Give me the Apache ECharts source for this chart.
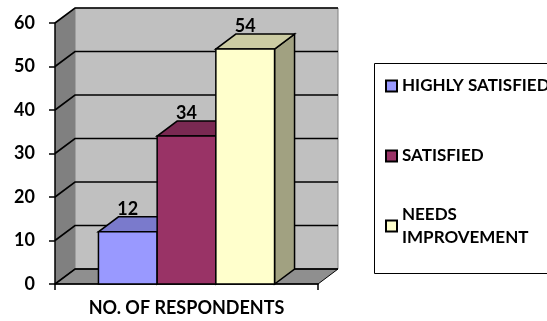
<!DOCTYPE html>
<html><head><meta charset="utf-8">
<script src="https://cdn.jsdelivr.net/npm/echarts@6/dist/echarts.min.js"></script>
<style>html,body{margin:0;padding:0;background:#fff}#c{width:547px;height:321px}</style>
</head><body><div id="c"></div>
<script>
// ---- data ----
const categories = ['NO. OF RESPONDENTS'];
const seriesNames = ['HIGHLY SATISFIED', 'SATISFIED', 'NEEDS IMPROVEMENT'];
const highlySatisfied = [12];
const satisfied = [34];
const needsImprovement = [54];
const yTicks = [0, 10, 20, 30, 40, 50, 60];

// ---- style ----
const colors = ['#9999FF', '#993366', '#FFFFCC'];
const DX = 20, DY = 15;          // 3D depth offset (px)
const BAR_FRAC = 0.2232;         // bar width as fraction of category band
const FONT = 'Lato';

function shade(hex, f) {
  const n = parseInt(hex.slice(1), 16);
  const r = Math.round(((n >> 16) & 255) * f), g = Math.round(((n >> 8) & 255) * f), b = Math.round((n & 255) * f);
  return 'rgb(' + r + ',' + g + ',' + b + ')';
}

function wallsRender(params, api) {
  const cs = params.coordSys;
  const x0 = cs.x, y0 = cs.y, x1 = cs.x + cs.width, y1 = cs.y + cs.height;
  const children = [
    { type: 'rect', shape: { x: x0 + DX, y: y0 - DY, width: cs.width, height: cs.height },
      style: { fill: '#C0C0C0', stroke: '#808080', lineWidth: 1 } },
    { type: 'polygon', shape: { points: [[x0, y1], [x0, y0], [x0 + DX, y0 - DY], [x0 + DX, y1 - DY]] },
      style: { fill: '#808080', stroke: null } },
    { type: 'polygon', shape: { points: [[x0, y1], [x1, y1], [x1 + DX, y1 - DY], [x0 + DX, y1 - DY]] },
      style: { fill: '#8F8F8F', stroke: '#000', lineWidth: 1 } }
  ];
  yTicks.forEach(function (v) {
    const y = api.coord([0, v])[1];
    children.push({ type: 'polyline', shape: { points: [[x0, y], [x0 + DX, y - DY], [x1 + DX, y - DY]] },
      style: { stroke: '#000', lineWidth: 1.6, fill: null } });
  });
  return { type: 'group', children: children };
}

function barRender(idx) {
  return function (params, api) {
    const v = api.value(1);
    const base = api.coord([api.value(0), 0]);
    const topP = api.coord([api.value(0), v]);
    const band = api.size([1, 0])[0];
    const bw = band * BAR_FRAC;
    const xl = base[0] - 1.5 * bw + idx * bw, xr = xl + bw;
    const yb = base[1], yt = topP[1];
    const c = colors[idx];
    const line = { stroke: '#000', lineWidth: 1.5 };
    return { type: 'group', children: [
      { type: 'polygon', shape: { points: [[xr, yb], [xr, yt], [xr + DX, yt - DY], [xr + DX, yb - DY]] },
        style: Object.assign({ fill: shade(c, 0.63) }, line) },
      { type: 'polygon', shape: { points: [[xl, yt], [xr, yt], [xr + DX, yt - DY], [xl + DX, yt - DY]] },
        style: Object.assign({ fill: shade(c, 0.8) }, line) },
      { type: 'rect', shape: { x: xl, y: yt, width: bw, height: yb - yt },
        style: Object.assign({ fill: c }, line) },
      { type: 'text', style: { text: String(v), x: (xl + xr) / 2, y: yt - DY + 1, align: 'center', verticalAlign: 'bottom',
        fill: '#000', font: 'bold 18px ' + FONT } }
    ] };
  };
}

const values = [highlySatisfied, satisfied, needsImprovement];
const series = [{
  type: 'custom', name: '_walls', coordinateSystem: 'cartesian2d', silent: true, z: 0,
  data: [[0, 0]], renderItem: wallsRender
}];
values.forEach(function (arr, i) {
  series.push({
    type: 'custom', name: seriesNames[i], coordinateSystem: 'cartesian2d', z: 2 + i,
    color: colors[i], itemStyle: { color: colors[i] },
    data: arr.map(function (val, k) { return [k, val]; }),
    renderItem: barRender(i)
  });
});

const legendText = { fontFamily: FONT, fontWeight: 'bold', fontSize: 17, color: '#000', lineHeight: 23 };
function mkLegend(name, top, extra) {
  return Object.assign({
    orient: 'vertical', left: 385, top: top, padding: 0, itemWidth: 11, itemHeight: 11,
    icon: 'rect', itemStyle: { borderColor: '#000', borderWidth: 2 },
    textStyle: legendText, selectedMode: true, data: [name]
  }, extra || {});
}

const chart = echarts.init(document.getElementById('c'), null, { renderer: 'canvas' });
chart.setOption({
  animation: false,
  backgroundColor: '#fff',
  grid: { left: 55, right: 229, top: 23, bottom: 37 },
  graphic: [{ type: 'rect', z: -10, shape: { x: 374.5, y: 63.5, width: 200, height: 210 },
    style: { fill: '#fff', stroke: '#000', lineWidth: 1 } }],
  legend: [
    mkLegend(seriesNames[0], 86 - 11.5),
    mkLegend(seriesNames[1], 156 - 11.5),
    mkLegend(seriesNames[2], 226 - 34.5, {
      data: [{ name: seriesNames[2], textStyle: { padding: [23, 0, 0, 0] } }],
      formatter: function (n) { return n.replace(' ', '\n'); }
    })
  ],
  xAxis: {
    type: 'category', data: categories,
    axisLine: { lineStyle: { color: '#000', width: 1.5 } },
    axisTick: { show: true, length: 6, lineStyle: { color: '#000', width: 1.5 } },
    axisLabel: { margin: 15, fontFamily: FONT, fontWeight: 'bold', fontSize: 18, color: '#000' },
    splitLine: { show: false }
  },
  yAxis: {
    type: 'value', min: 0, max: 60, interval: 10,
    axisLine: { show: true, lineStyle: { color: '#000', width: 1.5 } },
    axisTick: { show: true, length: 6, lineStyle: { color: '#000', width: 1.5 } },
    axisLabel: { margin: 20, fontFamily: FONT, fontWeight: 'bold', fontSize: 18, color: '#000' },
    splitLine: { show: false }
  },
  series: series
});
</script></body></html>
